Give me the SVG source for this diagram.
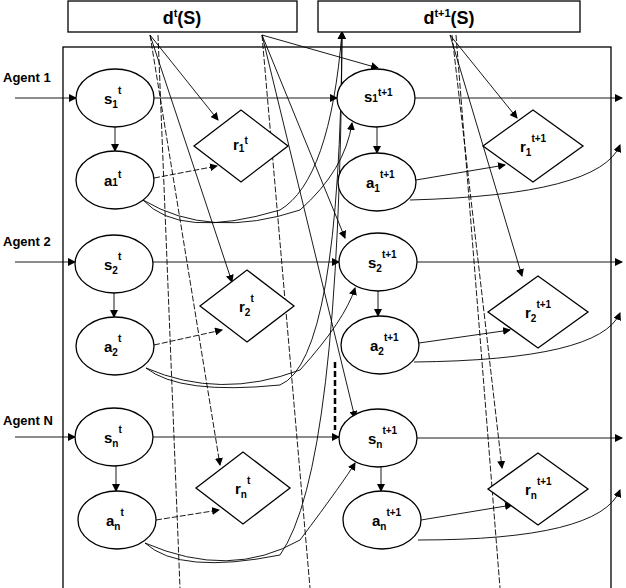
<svg xmlns="http://www.w3.org/2000/svg" width="626" height="588" viewBox="0 0 626 588">
<style>
text{font-family:"Liberation Sans",Arial,sans-serif;font-weight:bold;fill:#000}
.n{fill:#fff;stroke:#000;stroke-width:1.3}
.lbl{font-size:15px}
.c{fill:none;stroke:#000;stroke-width:0.9}
.d{stroke-dasharray:6,2}
</style>
<defs><marker id="a" markerWidth="8" markerHeight="8" refX="7" refY="4" orient="auto" markerUnits="userSpaceOnUse"><path d="M0,0L8,4L0,8z"/></marker></defs>
<rect x="63" y="47" width="548" height="560" fill="#fff" stroke="#000" stroke-width="1.3"/>
<g id="connectors">
<g marker-end="url(#a)">
<path class="c" d="M15,98H76"/><path class="c" d="M15,262H75"/><path class="c" d="M15,437H75"/>
<path class="c" d="M154,98H337"/><path class="c" d="M153,262H339"/><path class="c" d="M153,437H339"/>
<path class="c" d="M415,98H622"/><path class="c" d="M417,262H622"/><path class="c" d="M417,438H622"/>
<path class="c" d="M115,127V151"/><path class="c" d="M114,293V317"/><path class="c" d="M116,466V491"/>
<path class="c" d="M377,127V153"/><path class="c" d="M378,291V316"/><path class="c" d="M381,467V491"/>
<path class="c d" d="M154,178L217,166"/><path class="c d" d="M154,345L222,330"/><path class="c d" d="M156,520L219,510"/>
<path class="c" d="M416,180L505,165"/><path class="c" d="M419,343L510,330"/><path class="c" d="M421,520L512,505"/>
<path class="c" d="M410,200Q600,195 620,145"/><path class="c" d="M414,362Q600,360 620,313"/><path class="c" d="M418,540Q600,540 620,490"/>
<path class="c" d="M143,200Q180,240 280,210Q330,180 342,32"/><path class="c" d="M143,200Q210,240 300,210Q345,170 352,123"/>
<path class="c" d="M146,368Q180,395 280,385Q340,360 342,32"/><path class="c" d="M146,368Q220,400 300,370Q345,320 355,288"/>
<path class="c" d="M145,543Q180,575 280,555Q340,470 342,32"/><path class="c" d="M145,543Q230,580 300,540Q345,480 355,463"/>
<path class="c" d="M150,35L218,120"/><path class="c" d="M150,35L232,282"/><path class="c d" d="M150,35L220,465"/>
<path class="c" d="M262,35L378,68"/><path class="c" d="M262,35L345,238"/><path class="c" d="M262,35L355,418"/>
<path class="c" d="M450,35L517,118"/><path class="c" d="M450,35L522,276"/><path class="c d" d="M452,35L502,468"/>
</g>
<path class="c d" d="M158,35L180,588"/><path class="c d" d="M262,35L310,588"/><path class="c d" d="M456,35L500,588"/>
</g>
<path d="M335,362V430" stroke="#000" stroke-width="2.5" stroke-dasharray="6,3"/>
<g id="dt"><rect class="n" x="68" y="1" width="229" height="31"/><text x="182" y="24" font-size="18" text-anchor="middle">d<tspan font-size="11" dy="-7">t</tspan><tspan dy="7">(S)</tspan></text></g>
<g id="dt1"><rect class="n" x="318" y="1" width="262" height="31"/><text x="449" y="24" font-size="18" text-anchor="middle">d<tspan font-size="11" dy="-7">t+1</tspan><tspan dy="7">(S)</tspan></text></g>
<text x="3" y="82" font-size="13">Agent 1</text><text x="3" y="246" font-size="13">Agent 2</text><text x="3" y="425" font-size="13">Agent N</text>
<g id="s1t"><ellipse class="n" cx="115" cy="98" rx="39" ry="29"/><text class="lbl" x="104" y="104">s<tspan font-size="10" dy="4">1</tspan><tspan font-size="10" dy="-14">t</tspan></text></g>
<g id="a1t"><ellipse class="n" cx="115" cy="180" rx="39" ry="29"/><text class="lbl" x="104" y="186">a<tspan font-size="10">1</tspan><tspan font-size="10" dy="-8">t</tspan></text></g>
<g id="s2t"><ellipse class="n" cx="114" cy="264" rx="39" ry="29"/><text class="lbl" x="104" y="270">s<tspan font-size="10" dy="4">2</tspan><tspan font-size="10" dy="-14">t</tspan></text></g>
<g id="a2t"><ellipse class="n" cx="115" cy="346" rx="39" ry="29"/><text class="lbl" x="104" y="352">a<tspan font-size="10" dy="4">2</tspan><tspan font-size="10" dy="-14">t</tspan></text></g>
<g id="snt"><ellipse class="n" cx="114" cy="437" rx="39" ry="29"/><text class="lbl" x="104" y="443">s<tspan font-size="10" dy="4">n</tspan><tspan font-size="10" dy="-14">t</tspan></text></g>
<g id="ant"><ellipse class="n" cx="117" cy="520" rx="39" ry="29"/><text class="lbl" x="106" y="526">a<tspan font-size="10" dy="4">n</tspan><tspan font-size="10" dy="-14">t</tspan></text></g>
<g id="s1t1"><ellipse class="n" cx="376" cy="98" rx="39" ry="29"/><text class="lbl" x="364" y="102">s<tspan font-size="10">1</tspan><tspan font-size="10" dy="-6">t+1</tspan></text></g>
<g id="a1t1"><ellipse class="n" cx="377" cy="182" rx="39" ry="29"/><text class="lbl" x="366" y="188">a<tspan font-size="10" dy="4">1</tspan><tspan font-size="10" dy="-14">t+1</tspan></text></g>
<g id="s2t1"><ellipse class="n" cx="378" cy="262" rx="39" ry="29"/><text class="lbl" x="368" y="268">s<tspan font-size="10" dy="4">2</tspan><tspan font-size="10" dy="-14">t+1</tspan></text></g>
<g id="a2t1"><ellipse class="n" cx="380" cy="345" rx="39" ry="29"/><text class="lbl" x="370" y="351">a<tspan font-size="10" dy="4">2</tspan><tspan font-size="10" dy="-14">t+1</tspan></text></g>
<g id="snt1"><ellipse class="n" cx="378" cy="438" rx="39" ry="29"/><text class="lbl" x="368" y="444">s<tspan font-size="10" dy="4">n</tspan><tspan font-size="10" dy="-14">t+1</tspan></text></g>
<g id="ant1"><ellipse class="n" cx="382" cy="520" rx="39" ry="29"/><text class="lbl" x="372" y="526">a<tspan font-size="10" dy="4">n</tspan><tspan font-size="10" dy="-14">t+1</tspan></text></g>
<g id="r1t"><path class="n" d="M194,146L241,110L288,146L241,182z"/><text class="lbl" x="233" y="150">r<tspan font-size="10" dy="2">1</tspan><tspan font-size="10" dy="-8">t</tspan></text></g>
<g id="r2t"><path class="n" d="M200,306L247,270L294,306L247,342z"/><text class="lbl" x="239" y="312">r<tspan font-size="10" dy="4">2</tspan><tspan font-size="10" dy="-14">t</tspan></text></g>
<g id="rnt"><path class="n" d="M196,488L243,452L290,488L243,524z"/><text class="lbl" x="235" y="494">r<tspan font-size="10" dy="4">n</tspan><tspan font-size="10" dy="-14">t</tspan></text></g>
<g id="r1t1"><path class="n" d="M483,146L533,110L583,146L533,182z"/><text class="lbl" x="520" y="152">r<tspan font-size="10" dy="4">1</tspan><tspan font-size="10" dy="-14">t+1</tspan></text></g>
<g id="r2t1"><path class="n" d="M488,312L538,276L588,312L538,348z"/><text class="lbl" x="525" y="318">r<tspan font-size="10" dy="4">2</tspan><tspan font-size="10" dy="-14">t+1</tspan></text></g>
<g id="rnt1"><path class="n" d="M488,489L538,453L588,489L538,525z"/><text class="lbl" x="525" y="495">r<tspan font-size="10" dy="4">n</tspan><tspan font-size="10" dy="-14">t+1</tspan></text></g>
</svg>
